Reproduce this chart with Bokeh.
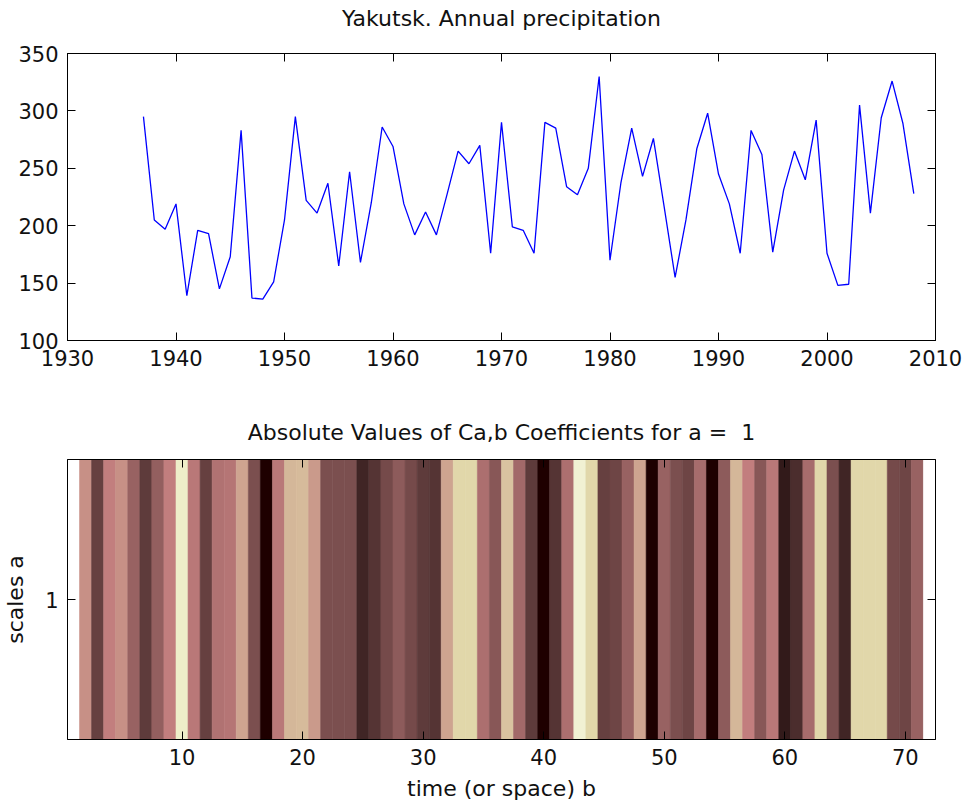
import numpy as np
from bokeh.plotting import figure
from bokeh.layouts import column
from bokeh.models import Range1d, LinearAxis, FixedTicker, ColumnDataSource
from bokeh.transform import linear_cmap
from bokeh.embed import file_html
from bokeh.resources import INLINE

# ---------------- data ----------------
years = list(range(1937, 2009))
precip = [295, 205, 197, 219, 139, 196, 193, 145, 173, 283,
          137, 136, 151, 205, 295, 222, 211, 237, 165, 247,
          168, 220, 286, 269, 219, 192, 212, 192, 228, 265,
          254, 270, 176, 290, 199, 196, 176, 290, 285, 234,
          227, 250, 330, 170, 237, 285, 243, 276, 216, 155,
          205, 267, 298, 245, 219, 176, 283, 262, 177, 231,
          265, 240, 292, 176, 148, 149, 305, 211, 294, 326,
          289, 228]

b_positions = list(range(1, 73))
coef_abs = [1.00, 0.42, 0.10, 0.37, 0.42, 0.23, 0.08, 0.21, 0.37, 0.80,
            0.34, 0.10, 0.31, 0.32, 0.47, 0.15, 0.00, 0.34, 0.54, 0.55,
            0.44, 0.15, 0.15, 0.15, 0.04, 0.065, 0.14, 0.19, 0.14, 0.083,
            0.078, 0.47, 0.66, 0.66, 0.29, 0.18, 0.58, 0.25, 0.09, 0.003,
            0.068, 0.29, 0.835, 0.66, 0.10, 0.12, 0.23, 0.48, 0.00, 0.23,
            0.15, 0.11, 0.27, 0.015, 0.19, 0.54, 0.36, 0.18, 0.33, 0.023,
            0.05, 0.28, 0.66, 0.15, 0.04, 0.66, 0.66, 0.66, 0.14, 0.12,
            0.23, 1.00]

year_ticks = [1930, 1940, 1950, 1960, 1970, 1980, 1990, 2000, 2010]
precip_ticks = [100, 150, 200, 250, 300, 350]
b_ticks = [10, 20, 30, 40, 50, 60, 70]
a_ticks = [1]

title_top = "Yakutsk. Annual precipitation"
title_bottom = "Absolute Values of Ca,b Coefficients for a =\u00a0\u00a01"

# ------------- MATLAB "pink" colormap -------------
def pink_palette(m=64):
    n = int(np.fix(3 / 8 * m))
    r = np.concatenate([np.arange(1, n + 1) / n, np.ones(m - n)])
    g = np.concatenate([np.zeros(n), np.arange(1, n + 1) / n, np.ones(m - 2 * n)])
    bb = np.concatenate([np.zeros(2 * n), np.arange(1, m - 2 * n + 1) / (m - 2 * n)])
    gray = np.linspace(0, 1, m)
    rgb = np.sqrt((2 * gray[:, None] + np.stack([r, g, bb], axis=1)) / 3)
    rgb = np.clip(np.round(rgb * 255), 0, 255).astype(int)
    return ["#%02x%02x%02x" % tuple(c) for c in rgb]

palette = pink_palette(64)

FONT = "DejaVu Sans"
FS = "21px"
FS_TITLE = "22px"


def style_label(ax, standoff):
    ax.axis_label_text_font = FONT
    ax.axis_label_text_font_size = FS_TITLE
    ax.axis_label_text_font_style = "normal"
    ax.axis_label_text_color = "#111111"
    ax.axis_label_standoff = standoff


def style_axis(ax, ticks, show_labels=True):
    ax.ticker = FixedTicker(ticks=ticks, minor_ticks=[])
    ax.major_tick_in = 8
    ax.major_tick_out = 0
    ax.minor_tick_in = 0
    ax.minor_tick_out = 0
    ax.axis_line_color = "black"
    ax.major_tick_line_color = "black"
    ax.axis_line_width = 1
    ax.major_label_text_font = FONT
    ax.major_label_text_color = "#111111"
    if show_labels:
        ax.major_label_text_font_size = FS
        ax.major_label_standoff = 9
    else:
        ax.major_label_text_font_size = "0px"
        ax.major_label_standoff = 0
        ax.major_label_text_alpha = 0


def base_figure(height, x_range, y_range, border_top, border_bottom):
    p = figure(width=964, height=height, x_range=x_range, y_range=y_range,
               output_backend="svg", toolbar_location=None,
               min_border_left=67, min_border_right=29,
               min_border_top=border_top, min_border_bottom=border_bottom)
    p.xgrid.visible = False
    p.ygrid.visible = False
    p.outline_line_color = "black"
    p.outline_line_alpha = 1
    p.background_fill_color = "white"
    p.border_fill_color = "white"
    return p


# ---------------- top: time series ----------------
p1 = base_figure(400, Range1d(1930, 2010), Range1d(100, 350), 53, 60)
p1.line(years, precip, line_color="#0000ff", line_width=1.3)
style_axis(p1.xaxis[0], year_ticks)
style_axis(p1.yaxis[0], precip_ticks)
ax_top = LinearAxis(axis_label=title_top)
style_axis(ax_top, year_ticks, show_labels=False)
style_label(ax_top, 23)
p1.add_layout(ax_top, "above")
ax_right = LinearAxis()
style_axis(ax_right, precip_ticks, show_labels=False)
p1.add_layout(ax_right, "right")

# ---------------- bottom: coefficient stripes ----------------
src = ColumnDataSource(dict(b=b_positions, c=coef_abs))
p2 = base_figure(412, Range1d(0.5, 72.5), Range1d(0.5, 1.5), 59, 73)
cmap = linear_cmap("c", palette, 0, 1)
p2.vbar(x="b", width=1, bottom=0.5, top=1.5, source=src,
        fill_color=cmap, line_color=cmap, line_width=0.6)
style_axis(p2.xaxis[0], b_ticks)
style_axis(p2.yaxis[0], a_ticks)
p2.xaxis[0].axis_label = "time (or space) b"
p2.yaxis[0].axis_label = "scales a"
style_label(p2.xaxis[0], 8)
style_label(p2.yaxis[0], 14)
ax_top2 = LinearAxis(axis_label=title_bottom)
style_axis(ax_top2, b_ticks, show_labels=False)
style_label(ax_top2, 15)
p2.add_layout(ax_top2, "above")
ax_right2 = LinearAxis()
style_axis(ax_right2, a_ticks, show_labels=False)
p2.add_layout(ax_right2, "right")

layout = column(p1, p2, spacing=0)
open("out.html", "w").write(file_html(layout, INLINE))
